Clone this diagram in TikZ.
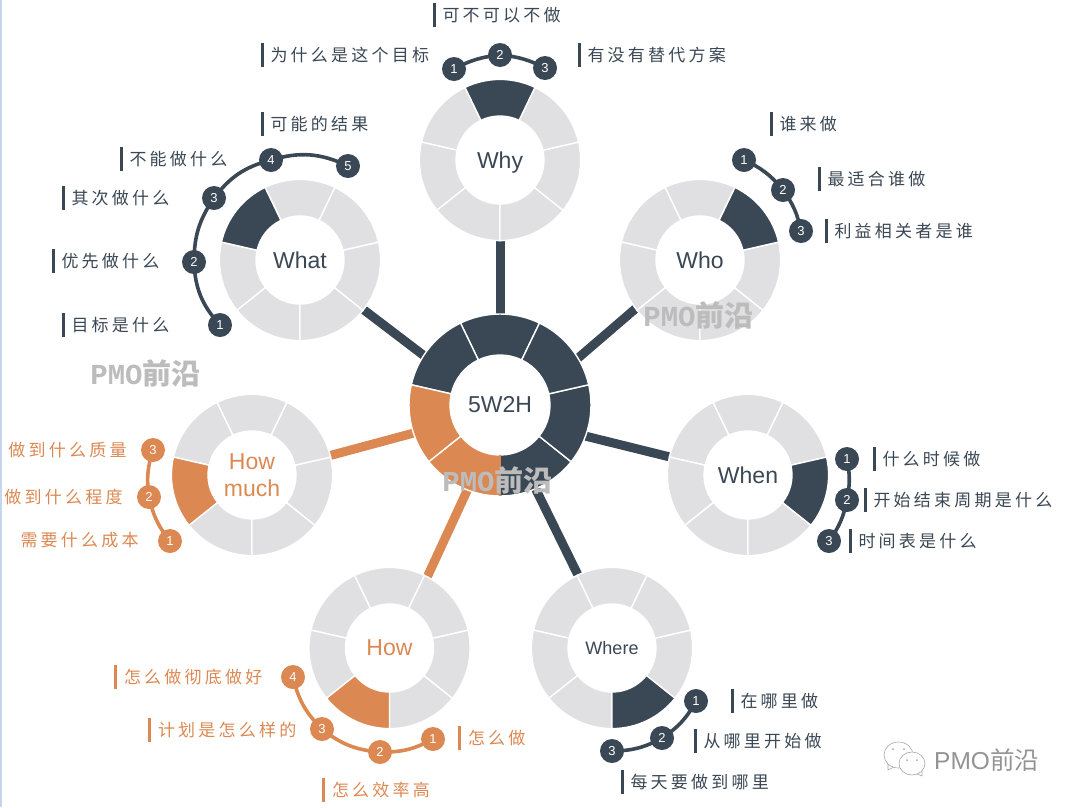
\documentclass[tikz,border=0pt]{standalone}
\usepackage{fontspec}
\usetikzlibrary{backgrounds}
\setmainfont{Liberation Sans}
\newfontfamily\tagfont[LetterSpace=19]{Noto Sans CJK SC}
\newfontfamily\markfont{Noto Sans CJK SC}
\newfontfamily\markmono{Liberation Mono}
\definecolor{slatedark}{HTML}{3A4754}
\definecolor{orangeseg}{HTML}{DC8852}
\definecolor{greyseg}{HTML}{E0E0E2}
\definecolor{markgrey}{HTML}{BCBCBC}
\definecolor{edgeblue}{HTML}{C5D5EE}
% un secteur : centre, debut, rayon ext, rayon int, couleur
\newcommand{\ringpart}[5]{%
\filldraw[draw=white,line width=1.4pt,fill=#5] ([shift={(#2:#3pt)}]#1.center) arc[start angle=#2,delta angle=51.43,radius=#3pt] -- ([shift={(#2+51.43:#4pt)}]#1.center) arc[start angle=#2+51.43,delta angle=-51.43,radius=#4pt] -- cycle;}
\begin{document}
\begin{tikzpicture}[x=1pt,y=-1pt]
\tikzstyle{ringnode} = [circle,inner sep=0pt,outer sep=0pt,minimum size=160pt,align=center,text=slatedark,font=\fontsize{23}{27}\selectfont]
\tikzstyle{spoke} = [line width=9pt]
\tikzstyle{linkarc} = [line width=3.6pt]
\tikzstyle{badge} = [circle,inner sep=0pt,outer sep=0pt,minimum size=24pt,text=white,font=\fontsize{13}{13}\selectfont]
\tikzstyle{tagtext} = [anchor=west,inner sep=0pt,outer sep=0pt,font=\tagfont\fontsize{17}{17}\selectfont]
\tikzstyle{tagbar} = [line width=3pt]
\tikzstyle{watermark} = [text=markgrey,inner sep=0pt,font=\fontsize{29}{29}\selectfont\bfseries]
\useasboundingbox (0,0) rectangle (1074,807);
\fill[edgeblue] (0,0) rectangle (1.5,807);
%les noeuds
\draw(500,405)node[ringnode,minimum size=182pt](hub){5W2H};
\draw(500,160)node[ringnode,text depth=0pt](why){Why};
\draw(700,260)node[ringnode](who){Who};
\draw(748,475)node[ringnode](when){When};
\draw(612,648)node[ringnode,font=\fontsize{18}{20}\selectfont](where){Where};
\draw(389.5,648)node[ringnode,text=orangeseg](how){How};
\draw(252,475)node[ringnode,text=orangeseg](howmuch){How\\much};
\draw(300,260)node[ringnode](what){What};
%les rayons
\draw[spoke,slatedark] (hub.90)--(why.270);
\draw[spoke,slatedark] (hub.31)--(who.217);
\draw[spoke,slatedark] (hub.340)--(when.167);
\draw[spoke,slatedark] (hub.293.5)--(where.115);
\draw[spoke,orangeseg] (hub.249.5)--(how.62);
\draw[spoke,orangeseg] (hub.198.5)--(howmuch.14);
\draw[spoke,slatedark] (hub.147)--(what.322);
%les anneaux
\foreach \a/\c in {64.29/slatedark,115.71/slatedark,167.14/orangeseg,218.57/orangeseg,270/slatedark,321.43/slatedark,12.86/slatedark}{
\ringpart{hub}{\a}{91}{50}{\c}
}
\draw[line width=1.6pt,orangeseg] ([shift={(270:50pt)}]hub.center)--([shift={(270:91pt)}]hub.center);
\foreach \nom in {why,who,when,where,how,howmuch,what}{
\foreach \a in {64.29,115.71,167.14,218.57,270,321.43,12.86}{
\ringpart{\nom}{\a}{80.6}{44}{greyseg}
}
}
\ringpart{why}{64.29}{80.6}{44}{slatedark}
\ringpart{who}{12.86}{80.6}{44}{slatedark}
\ringpart{when}{321.43}{80.6}{44}{slatedark}
\ringpart{where}{270}{80.6}{44}{slatedark}
\ringpart{how}{218.57}{80.6}{44}{orangeseg}
\ringpart{howmuch}{167.14}{80.6}{44}{orangeseg}
\ringpart{what}{115.71}{80.6}{44}{slatedark}
%les pastilles
\foreach \i/\x/\y in {1/454/69,2/500/55,3/545/68}{\draw(\x,\y)node[badge,fill=slatedark](why\i){\i};}
\foreach \i/\x/\y in {1/744/160,2/783/190,3/801/231}{\draw(\x,\y)node[badge,fill=slatedark](who\i){\i};}
\foreach \i/\x/\y in {1/847/459,2/847/500,3/829/541}{\draw(\x,\y)node[badge,fill=slatedark](when\i){\i};}
\foreach \i/\x/\y in {1/696/701,2/662/738,3/612/751}{\draw(\x,\y)node[badge,fill=slatedark](where\i){\i};}
\foreach \i/\x/\y in {1/433/739,2/380/752,3/322/729,4/293/677}{\draw(\x,\y)node[badge,fill=orangeseg](how\i){\i};}
\foreach \i/\x/\y in {1/170/541,2/149/497,3/153/450}{\draw(\x,\y)node[badge,fill=orangeseg](howmuch\i){\i};}
\foreach \i/\x/\y in {1/220/325,2/194/262,3/214/198,4/271/160,5/348/166}{\draw(\x,\y)node[badge,fill=slatedark](what\i){\i};}
%les arcs
\begin{scope}[on background layer]
\draw[linkarc,slatedark] (why1.center) to[bend left=11] (why2.center);
\draw[linkarc,slatedark] (why2.center) to[bend left=11] (why3.center);
\draw[linkarc,slatedark] (who1.center) to[bend left=13] (who2.center);
\draw[linkarc,slatedark] (who2.center) to[bend left=12] (who3.center);
\draw[linkarc,slatedark] (when1.center) to[bend left=11] (when2.center);
\draw[linkarc,slatedark] (when2.center) to[bend left=12] (when3.center);
\draw[linkarc,slatedark] (where1.center) to[bend left=14] (where2.center);
\draw[linkarc,slatedark] (where2.center) to[bend left=14] (where3.center);
\draw[linkarc,orangeseg] (how1.center) to[bend left=15] (how2.center);
\draw[linkarc,orangeseg] (how2.center) to[bend left=17] (how3.center);
\draw[linkarc,orangeseg] (how3.center) to[bend left=16] (how4.center);
\draw[linkarc,orangeseg] (howmuch1.center) to[bend left=13] (howmuch2.center);
\draw[linkarc,orangeseg] (howmuch2.center) to[bend left=13] (howmuch3.center);
\draw[linkarc,slatedark] (what1.center) to[bend left=20] (what2.center);
\draw[linkarc,slatedark] (what2.center) to[bend left=17] (what3.center);
\draw[linkarc,slatedark] (what3.center) to[bend left=19] (what4.center);
\draw[linkarc,slatedark] (what4.center) to[bend left=21] (what5.center);
\end{scope}
%les etiquettes
\foreach \x/\y/\t [count=\i] in {434/15/可不可以不做,262/55/为什么是这个目标,579/55/有没有替代方案,771/124/谁来做,819/179/最适合谁做,826/231/利益相关者是谁,262/124/可能的结果,121/159/不能做什么,63/198/其次做什么,53/261/优先做什么,63/325/目标是什么,874/459/什么时候做,865/500/开始结束周期是什么,850/541/时间表是什么,732/701/在哪里做,695/741/从哪里开始做,622/782/每天要做到哪里}{
\draw(\x+8.5,\y)node[tagtext,text=slatedark](tag\i){\t};
\draw[tagbar,slatedark] ([xshift=-8.5pt,yshift=-12pt]tag\i.west)--([xshift=-8.5pt,yshift=12pt]tag\i.west);
}
\foreach \x/\y/\t [count=\i] in {115/677/怎么做彻底做好,149/730/计划是怎么样的,459/738/怎么做,323/790/怎么效率高}{
\draw(\x+9,\y)node[tagtext,text=orangeseg](howtag\i){\t};
\draw[tagbar,orangeseg] ([xshift=-9pt,yshift=-12pt]howtag\i.west)--([xshift=-9pt,yshift=12pt]howtag\i.west);
}
\draw(8.5,450)node[tagtext,text=orangeseg](muchtag3){做到什么质量};
\draw(4.5,497)node[tagtext,text=orangeseg](muchtag2){做到什么程度};
\draw(20.5,540)node[tagtext,text=orangeseg](muchtag1){需要什么成本};
%filigrane
\draw(145.5,373)node[watermark](mark1){\markmono PMO\markfont 前沿};
\draw(698.5,315)node[watermark](mark2){\markmono PMO\markfont 前沿};
\draw(497.5,480)node[watermark](mark3){\markmono PMO\markfont 前沿};
%wechat
\filldraw[draw=gray!70,fill=white,line width=0.6pt] (888,770)--(888,762)--(896,766)--cycle;
\filldraw[draw=gray!70,fill=white,line width=0.6pt] (898.5,755) ellipse[x radius=14.5,y radius=13];
\filldraw[draw=gray!70,fill=white,line width=0.6pt] (922,776)--(922,768)--(915,773)--cycle;
\filldraw[draw=gray!70,fill=white,line width=0.6pt] (912,763.5) ellipse[x radius=13,y radius=11.5];
\fill[gray!70] (907,760) circle (1) (917,760) circle (1) (893,749) circle (1) (904,749) circle (1);
\draw(934,760)node[anchor=west,inner sep=0pt,text=gray!85,font=\fontsize{24.5}{25}\selectfont](wechat){PMO\markfont 前沿};
\end{tikzpicture}
\end{document}
